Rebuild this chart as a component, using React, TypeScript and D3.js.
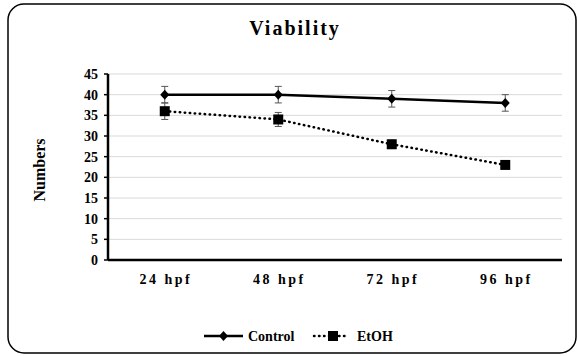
import * as d3 from 'd3';

const categories = ['24 hpf', '48 hpf', '72 hpf', '96 hpf'];
const controlValues = [40, 40, 39, 38];
const controlErrors = [2, 2, 2, 2];
const etohValues = [36, 34, 28, 23];
const etohErrors = [2, 1.7, 1, 0.5];
const yTicks = [0, 5, 10, 15, 20, 25, 30, 35, 40, 45];

const W = 577;
const H = 356;
const font = '"Liberation Serif", "Times New Roman", serif';

// wider diamond than d3's symbolDiamond
const fatDiamond = {
  draw(ctx: any, size: number) {
    const r = Math.sqrt(size / 2);
    ctx.moveTo(0, -r * 1.05);
    ctx.lineTo(r * 0.95, 0);
    ctx.lineTo(0, r * 1.05);
    ctx.lineTo(-r * 0.95, 0);
    ctx.closePath();
  },
};

const App = () => {
  const left = 108;
  const right = 562;
  const top = 74;
  const bottom = 260;

  const x = d3.scaleBand().domain(categories).range([left, right]);
  const y = d3.scaleLinear().domain([0, 45]).range([bottom, top]);
  const cx = (c: string) => (x(c) as number) + x.bandwidth() / 2;

  const line = d3.line<number>()
    .x((_, i) => cx(categories[i]))
    .y((d) => y(d));

  const diamond = d3.symbol().type(fatDiamond as any).size(45)();
  const square = d3.symbol().type(d3.symbolSquare).size(100)();

  const errBars = (vals: number[], errs: number[]) =>
    vals.map((v, i) => {
      const px = cx(categories[i]);
      const y1 = y(v + errs[i]);
      const y2 = y(v - errs[i]);
      return (
        <g key={i} stroke="#555" strokeWidth={1}>
          <line x1={px} x2={px} y1={y1} y2={y2} />
          <line x1={px - 3.5} x2={px + 3.5} y1={y1} y2={y1} />
          <line x1={px - 3.5} x2={px + 3.5} y1={y2} y2={y2} />
        </g>
      );
    });

  return (
    <svg width={W} height={H} style={{ position: 'absolute', left: 0, top: 0, background: '#fff' }}>
      <rect x={8} y={4} width={568} height={349} rx={16} fill="#fff" stroke="#000" strokeWidth={1.5} />

      <text x={295} y={35} textAnchor="middle" fontFamily={font} fontWeight="bold" fontSize={20} letterSpacing={2}>
        Viability
      </text>

      {yTicks.map((t) => (
        <g key={t}>
          {t > 0 && <line x1={left} x2={right} y1={y(t)} y2={y(t)} stroke="#d9d9d9" strokeWidth={1} />}
          <line x1={left - 4} x2={left} y1={y(t)} y2={y(t)} stroke="#000" strokeWidth={1.5} />
          <text x={left - 10} y={y(t)} dy="0.35em" textAnchor="end" fontFamily={font} fontWeight="bold" fontSize={14}>
            {t}
          </text>
        </g>
      ))}

      <line x1={left} x2={left} y1={top} y2={bottom} stroke="#000" strokeWidth={2.5} />
      <line x1={left} x2={right} y1={bottom} y2={bottom} stroke="#000" strokeWidth={2.5} />

      {categories.map((c) => (
        <text key={c} x={cx(c) + 1} y={284} textAnchor="middle" fontFamily={font} fontWeight="bold" fontSize={14} letterSpacing={2.5}>
          {c}
        </text>
      ))}

      <text transform={`translate(45,${(top + bottom) / 2 + 3}) rotate(-90)`} textAnchor="middle" fontFamily={font} fontWeight="bold" fontSize={16}>
        Numbers
      </text>

      {errBars(controlValues, controlErrors)}
      {errBars(etohValues, etohErrors)}

      <path d={line(controlValues) as string} fill="none" stroke="#000" strokeWidth={2.5} />
      <path d={line(etohValues) as string} fill="none" stroke="#000" strokeWidth={2.5} strokeDasharray="0.5,4.5" strokeLinecap="round" />

      {controlValues.map((v, i) => (
        <path key={i} d={diamond as string} transform={`translate(${cx(categories[i])},${y(v)})`} fill="#000" />
      ))}
      {etohValues.map((v, i) => (
        <path key={i} d={square as string} transform={`translate(${cx(categories[i])},${y(v)})`} fill="#000" />
      ))}

      <g fontFamily={font} fontWeight="bold" fontSize={14}>
        <line x1={204} x2={243} y1={336} y2={336} stroke="#000" strokeWidth={2.5} />
        <path d={diamond as string} transform="translate(223.5,336)" fill="#000" />
        <text x={248} y={336} dy="0.35em">Control</text>
        <line x1={314} x2={349} y1={336} y2={336} stroke="#000" strokeWidth={2.5} strokeDasharray="0.5,4.5" strokeLinecap="round" />
        <path d={square as string} transform="translate(333,336)" fill="#000" />
        <text x={357} y={336} dy="0.35em">EtOH</text>
      </g>
    </svg>
  );
};

export default App;
